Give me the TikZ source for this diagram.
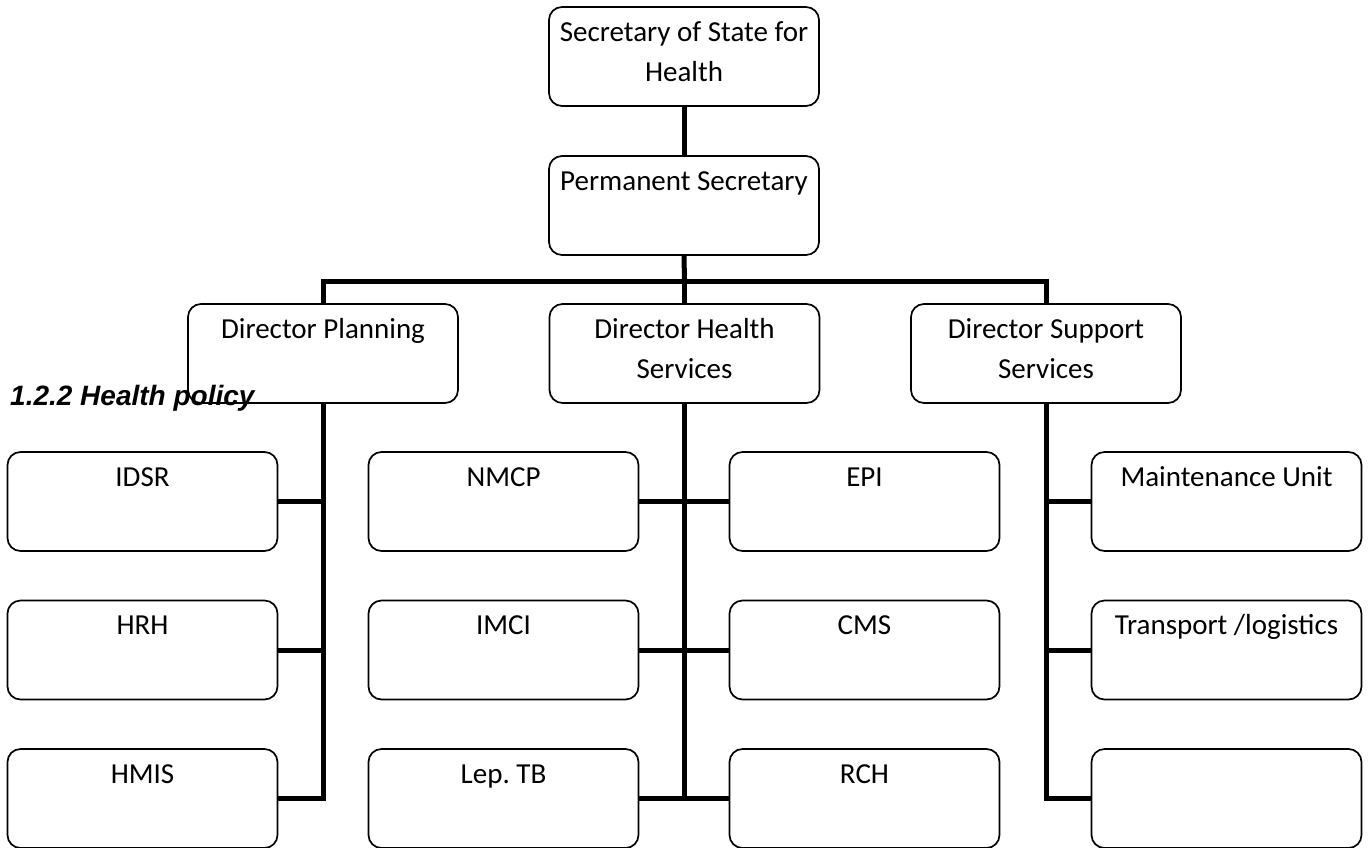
\documentclass[tikz,border=0pt]{standalone}
\usepackage{fontspec}
\setmainfont{Carlito}
\newfontfamily\headfont{Liberation Sans}
\frenchspacing
\tikzset{
  unit/.style={draw, line width=1.7pt, rounded corners=13pt, text width=262pt, align=flush center,
    inner xsep=4pt, inner ysep=0pt, text height=34pt, text depth=65pt,
    font=\fontsize{29}{40}\selectfont},
  link/.style={line width=5pt}
}
\begin{document}
\begin{tikzpicture}[x=1pt,y=-1pt]
    \useasboundingbox (0,0) rectangle (1370,847);
    % top of the chart
    \node[unit] (sos) at (684,56.5) {Secretary of State for\\Health};
    \node[unit] (ps) at (684,205.5) {Permanent Secretary};
    % directors
    \node[unit] (dp) at (323,353.5) {Director Planning};
    \node[unit] (dhs) at (684.5,353.5) {Director Health\\Services};
    \node[unit] (ds) at (1046,353.5) {Director Support\\Services};
    % units
    \node[unit] (idsr) at (142.5,501.5) {IDSR};
    \node[unit] (hrh) at (142.5,650) {HRH};
    \node[unit] (hmis) at (142.5,798.5) {HMIS};
    \node[unit] (nmcp) at (503.5,501.5) {NMCP};
    \node[unit] (imci) at (503.5,650) {IMCI};
    \node[unit] (lep) at (503.5,798.5) {Lep. TB};
    \node[unit] (epi) at (864.5,501.5) {EPI};
    \node[unit] (cms) at (864.5,650) {CMS};
    \node[unit] (rch) at (864.5,798.5) {RCH};
    \node[unit] (maint) at (1226.5,501.5) {Maintenance Unit};
    \node[unit] (trans) at (1226.5,650) {Transport /logistics};
    \node[unit] (spare) at (1226.5,798.5) {};
    % connectors
    \coordinate (bus) at (684.5,281);
    \draw[link] (sos.south) -- (ps.north);
    \draw[link] (ps.south) -- (bus);
    \draw[link] (dp.north) |- (bus) -| (ds.north);
    \draw[link] (bus) -- (dhs.north);
    \draw[link] (dp.south) |- (hmis.east);
    \foreach \u in {idsr,hrh}
        \draw[link] (\u.east) -- (\u.east -| dp.south);
    \draw[link] (dhs.south) -- (dhs.south |- lep.east);
    \foreach \l/\r in {nmcp/epi,imci/cms,lep/rch}
        \draw[link] (\l.east) -- (\r.west);
    \draw[link] (ds.south) |- (spare.west);
    \foreach \u in {maint,trans}
        \draw[link] (\u.west) -- (\u.west -| ds.south);
    \node[anchor=base west, inner sep=0pt, font=\headfont\bfseries\itshape\fontsize{28}{34}\selectfont] (heading) at (10,405) {1.2.2 Health policy};
\end{tikzpicture}
\end{document}
